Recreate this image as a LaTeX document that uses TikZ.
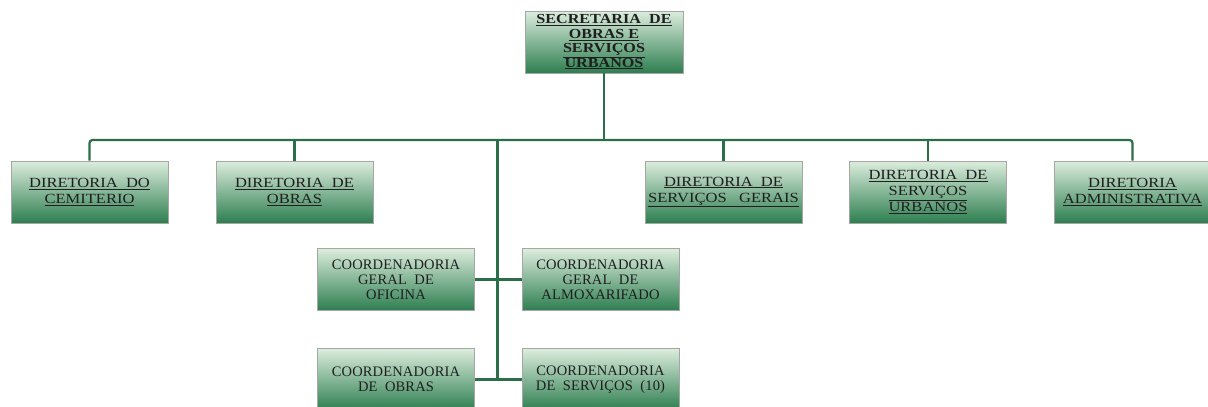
\documentclass[tikz,border=0pt]{standalone}
\usepackage{fontspec}
\setmainfont{Liberation Serif}
\begin{document}
\begin{tikzpicture}[x=1pt,y=-1pt,
  box/.style={draw=black!35, line width=0.6pt, top color=boxtop, bottom color=boxbot,
    minimum width=157pt, minimum height=62pt, inner sep=0pt, align=center,
    text=black!88, font=\fontsize{14}{16}\selectfont\addfontfeature{FakeStretch=1.18}},
  coord/.style={box, font=\fontsize{14.5}{15.2}\selectfont\addfontfeature{LetterSpace=1}},
  link/.style={draw=linkgreen, line width=2.2pt},
]
\definecolor{boxtop}{HTML}{DCEDDD}
\definecolor{boxbot}{HTML}{2D7E50}
\definecolor{linkgreen}{HTML}{2B6E49}
\useasboundingbox (0,0) rectangle (1208,407);
\clip (0,0) rectangle (1208,407);
% top
\node[box, minimum width=158pt, font=\bfseries\fontsize{13.8}{14.4}\selectfont\addfontfeature{FakeStretch=1.17}] (top) at (604,42)
  {\underline{SECRETARIA\ \ DE}\\\underline{OBRAS E}\\\underline{SERVIÇOS}\\\underline{URBANOS}};
% directorias
\node[box] (d1) at (89.5,192) {\underline{DIRETORIA\ \ DO}\\\underline{CEMITERIO}};
\node[box] (d2) at (294.5,192) {\underline{DIRETORIA\ \ DE}\\\underline{OBRAS}};
\node[box] (d3) at (723.5,192) {\underline{DIRETORIA\ \ DE}\\\underline{SERVIÇOS\ \ \ GERAIS}};
\node[box] (d4) at (928,192) {\underline{DIRETORIA\ \ DE}\\\underline{SERVIÇOS}\\\underline{URBANOS}};
\node[box] (d5) at (1132.5,192) {\underline{DIRETORIA}\\\underline{ADMINISTRATIVA}};
% coordenadorias
\node[coord] (c1) at (396,279.5) {COORDENADORIA\\GERAL\ \ DE\\OFICINA};
\node[coord] (c2) at (600.5,279.5) {COORDENADORIA\\GERAL\ \ DE\\ALMOXARIFADO};
\node[coord] (c3) at (396,379.5) {COORDENADORIA\\DE\ \ OBRAS};
\node[coord] (c4) at (600.5,379.5) {COORDENADORIA\\DE\ \ SERVIÇOS\ \ (10)};
% connectors
\coordinate (bus) at (604,140);
\coordinate (trunk) at (497.5,140);
\draw[link] (top.south) -- (top.south |- bus);
\draw[link, rounded corners=3pt] (d1.north) |- (bus) -| (d5.north);
\draw[link] (d2.north) -- (d2.north |- bus);
\draw[link] (d3.north) -- (d3.north |- bus);
\draw[link] (d4.north) -- (d4.north |- bus);
\draw[link] (trunk) -- (c3.east -| trunk);
\draw[link] (c1.east) -- (c2.west);
\draw[link] (c3.east) -- (c4.west);
\end{tikzpicture}
\end{document}
